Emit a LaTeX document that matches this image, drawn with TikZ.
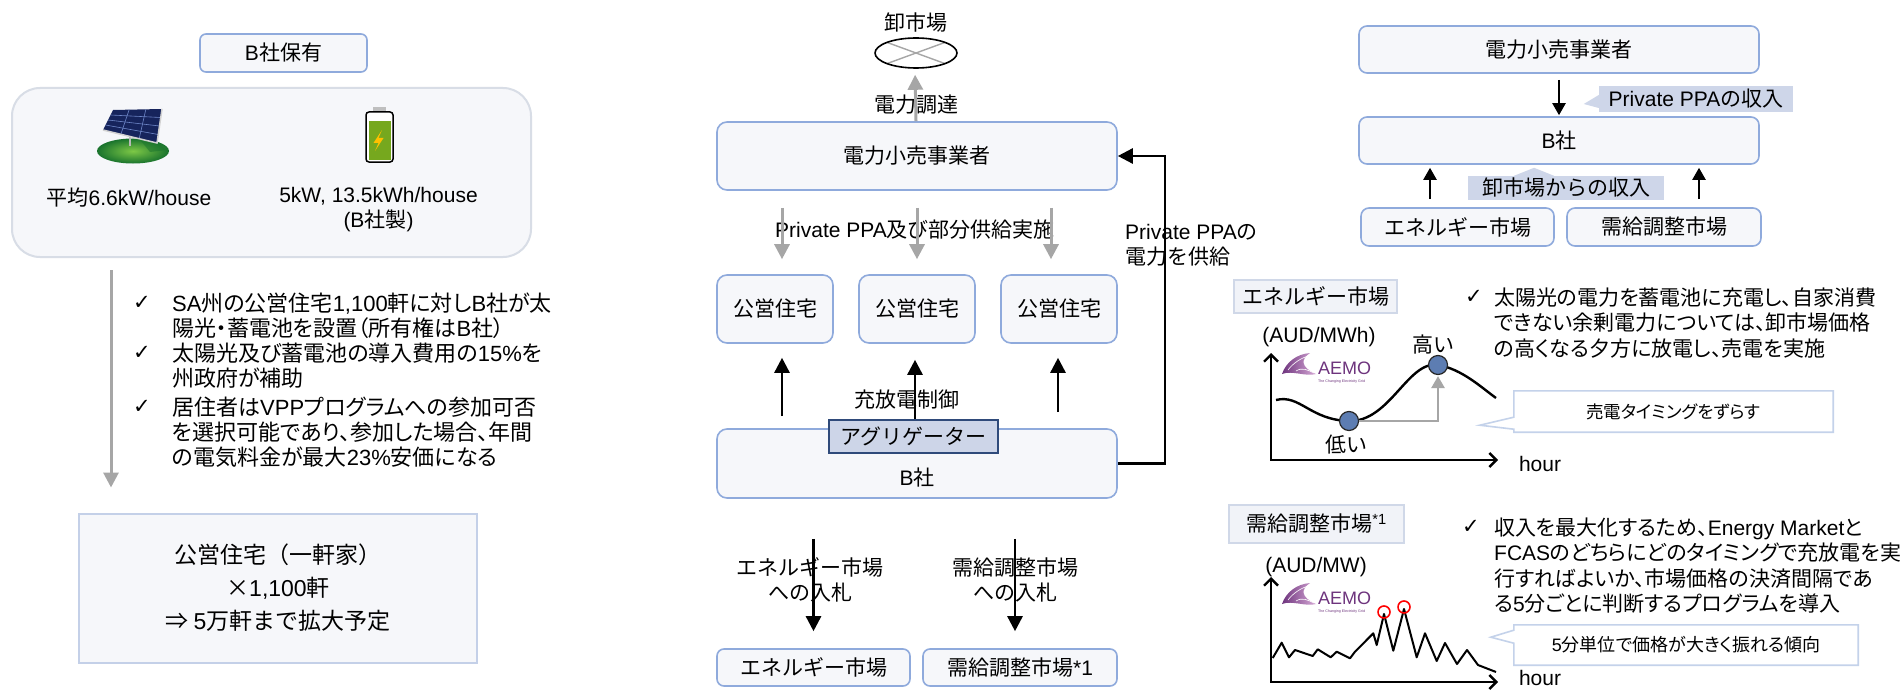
\documentclass[tikz,border=0pt]{standalone}
\usepackage{fontspec}
\setmainfont{Noto Sans CJK JP}
\newfontfamily\jpfont{Noto Sans CJK JP}
\newfontfamily\jpprop[RawFeature=+palt]{Noto Sans CJK JP}
\newfontfamily\latfont{Liberation Sans}
\newfontfamily\symfont{DejaVu Sans}
\usetikzlibrary{arrows.meta,shapes.geometric,calc}

% latin runs in Liberation Sans, the rest in Noto Sans CJK
\XeTeXinterchartokenstate=1
\newXeTeXintercharclass\latclass
\newXeTeXintercharclass\symclass
\newcount\chcode
\chcode=`\!
\loop
  \XeTeXcharclass\chcode=\latclass
\ifnum\chcode<`\~ \advance\chcode by 1 \repeat
\XeTeXcharclass"2713=\symclass
\def\curjp{\jpfont}
\XeTeXinterchartoks 0 \latclass={\latfont}
\XeTeXinterchartoks 4095 \latclass={\latfont}
\XeTeXinterchartoks \latclass 0={\curjp}
\XeTeXinterchartoks 4095 0={\curjp}

\definecolor{boxline}{RGB}{143,170,220}
\definecolor{boxfill}{RGB}{246,247,250}
\definecolor{paleline}{RGB}{216,221,230}
\definecolor{publine}{RGB}{196,208,232}
\definecolor{aggfill}{RGB}{205,213,232}
\definecolor{aggline}{RGB}{47,74,122}
\definecolor{tagfill}{RGB}{206,214,233}
\definecolor{labelfill}{RGB}{241,243,248}
\definecolor{labelline}{RGB}{208,216,232}
\definecolor{noteline}{RGB}{196,210,234}
\definecolor{arrowgray}{RGB}{166,166,166}
\definecolor{dotblue}{RGB}{93,125,178}
\definecolor{aemopurple}{RGB}{110,52,125}
\definecolor{aemopink}{RGB}{215,170,215}
\definecolor{grasslight}{RGB}{125,200,70}
\definecolor{grassdark}{RGB}{25,115,45}
\definecolor{panelnavy}{RGB}{22,36,92}
\definecolor{panelgrid}{RGB}{110,135,200}
\definecolor{battgreen}{RGB}{118,168,30}
\definecolor{boltyellow}{RGB}{255,192,0}

\tikzset{
  txt/.style={inner sep=0pt, font=\fontsize{21}{25}\selectfont},
  box/.style={draw=boxline, fill=boxfill, line width=1.6pt, rounded corners=10pt, inner sep=0pt, font=\fontsize{21}{25}\selectfont},
  aggbox/.style={draw=aggline, fill=aggfill, line width=1.8pt, inner sep=0pt, minimum width=169pt, minimum height=33pt, font=\fontsize{21}{25}\selectfont},
  tag/.style={fill=tagfill, inner sep=0pt, font=\fontsize{21}{25}\selectfont},
  chartlabel/.style={draw=labelline, fill=labelfill, line width=1.3pt, inner sep=0pt, font=\fontsize{21}{25}\selectfont},
  note/.style={inner sep=0pt, font=\fontsize{17.5}{21}\selectfont\let\curjp\jpprop},
  noteline/.style={draw=noteline, line width=1.6pt},
  tick/.style={inner sep=0pt, font=\fontsize{21}{24}\symfont},
  item/.style={anchor=north west, align=left, inner sep=0pt, font=\fontsize{22}{25}\selectfont\let\curjp\jpprop},
  ritem/.style={item, font=\fontsize{21}{25.5}\selectfont\let\curjp\jpprop},
  market/.style={ellipse, draw, line width=1.6pt, minimum width=82pt, minimum height=30pt, inner sep=0pt,
    path picture={\draw[arrowgray, line width=1.4pt] (path picture bounding box.north west) -- (path picture bounding box.south east)
      (path picture bounding box.south west) -- (path picture bounding box.north east);}},
  grayarr/.style={color=arrowgray, line width=3pt, -{Triangle[width=15pt,length=15pt]}},
  blkarr/.style={line width=2.6pt, -{Triangle[width=15pt,length=15pt]}},
  blkarr2/.style={line width=2.2pt, -{Triangle[width=13pt,length=12pt]}},
  grayarr2/.style={color=arrowgray, line width=2.6pt, -{Triangle[width=13pt,length=12pt]}},
  axisarr/.style={line width=2.4pt, {Straight Barb[width=14pt,length=7pt]}-{Straight Barb[width=14pt,length=7pt]}},
  dot/.style={circle, draw=black!85, line width=1.2pt, fill=dotblue, minimum size=19pt, inner sep=0pt},
  peak/.style={circle, draw=red, line width=1.6pt, minimum size=12pt, inner sep=0pt},
  aemologo/.pic={
    \shade[left color=aemopurple, right color=aemopink] (0,21) .. controls (4,9) and (15,1) .. (28,0)
      .. controls (19,6) and (18,14) .. (34,21) .. controls (24,24) and (10,17) .. (0,21) -- cycle;
    \draw[white, line width=0.6pt] (6,17) .. controls (12,9) and (20,5) .. (26,3);
    \draw[white, line width=0.6pt] (14,18) .. controls (20,14) and (26,17) .. (32,20);
    \node[anchor=west, inner sep=0pt, text=aemopurple, font=\fontsize{18}{20}\latfont] (-word) at (36,15) {AEMO};
    \node[anchor=west, inner sep=0pt, text=aemopurple, font=\fontsize{3.6}{4}\latfont] (-tag) at (36,29) {The Changing Electricity Grid};
  }
}

\begin{document}
\begin{tikzpicture}[x=1pt,y=-1pt]
\fill[white] (0,0) rectangle (1903,690);
\useasboundingbox (0,0) rectangle (1903,690);

\node[box, rounded corners=6pt, minimum width=167pt, minimum height=38pt] (own) at (283.5,53) {B社保有};
\node[draw=paleline, fill=boxfill, line width=2pt, rounded corners=28pt, minimum width=519pt, minimum height=169pt] (assets) at (271.5,172.5) {};

\shade[inner color=grasslight, outer color=grassdark] (133,151) ellipse [x radius=36, y radius=12.5];
\fill[grassdark, opacity=0.5] (141,141) -- (158,143) -- (166,150) -- (150,152) -- cycle;
\draw[gray!55, line width=2pt] (130,136) -- (130,146);
\coordinate (pTL) at (113,110);
\coordinate (pTR) at (162,109);
\coordinate (pBR) at (157,143);
\coordinate (pBL) at (103,130);
\fill[panelnavy] (pTL) -- (pTR) -- (pBR) -- (pBL) -- cycle;
\foreach \t in {0.33,0.67}
  \draw[panelgrid, line width=0.6pt] ($(pTL)!\t!(pTR)$) -- ($(pBL)!\t!(pBR)$);
\foreach \t in {0.25,0.5,0.75}
  \draw[panelgrid, line width=0.6pt] ($(pTL)!\t!(pBL)$) -- ($(pTR)!\t!(pBR)$);
\draw[gray!35, line width=1.5pt] (pTR) -- (pBR) -- (pBL);

\fill[gray!50] (373,107.5) rectangle (386,112);
\draw[line width=1.5pt, rounded corners=3pt, fill=white] (366,112) rectangle (393,162);
\fill[battgreen] (368.5,121) rectangle (390.5,159.5);
\fill[boltyellow] (382,130) -- (373.5,143) -- (378.5,143) -- (375,151) -- (383.5,138) -- (378.5,138) -- cycle;

\node[txt] (pvtext) at (129,198) {平均6.6kW/house};
\node[txt, align=center] (battext) at (378.5,210) {5kW, 13.5kWh/house\\(B社製)};

\node[tick] (tick1) at (142,303) {✓};
\node[tick] (tick2) at (142,353) {✓};
\node[tick] (tick3) at (142,407) {✓};
\node[item] (item1) at (172,293) {SA州の公営住宅1,100軒に対しB社が太\\陽光・蓄電池を設置（所有権はB社）};
\node[item] (item2) at (172,343) {太陽光及び蓄電池の導入費用の15\%を\\州政府が補助};
\node[item] (item3) at (172,397) {居住者はVPPプログラムへの参加可否\\を選択可能であり、参加した場合、年間\\の電気料金が最大23\%安価になる};

\node[draw=publine, fill=boxfill, line width=2pt, inner sep=0pt, minimum width=398pt, minimum height=149pt, align=center, font=\fontsize{23}{33}\selectfont] (pubhouse) at (278,588) {公営住宅（一軒家）\\×1,100軒\\⇒ 5万軒まで拡大予定};
\draw[grayarr, shorten <=12pt, shorten >=25pt] ([xshift=100pt]assets.south west) -- ([xshift=33pt]pubhouse.north west);

\node[txt] (wsale) at (916,23) {卸市場};
\node[market] (market) at (916,53) {};
\node[box, minimum width=400pt, minimum height=68pt] (retail) at (917,156) {電力小売事業者};
\node[txt] (procure) at (916,105) {電力調達};
\draw[grayarr, shorten >=6pt] ([xshift=-1pt]retail.north) -- ([xshift=-1pt]market.south);

\node[box, minimum width=116pt, minimum height=68pt] (h1) at (775,309) {公営住宅};
\node[box, minimum width=116pt, minimum height=68pt] (h2) at (917,309) {公営住宅};
\node[box, minimum width=116pt, minimum height=68pt] (h3) at (1059,309) {公営住宅};
\node[txt] (ppa) at (915,230) {Private PPA及び部分供給実施};
\foreach \h/\dx in {h1/7,h2/0,h3/-8}
  \draw[grayarr, shorten <=17pt, shorten >=15pt] ([xshift=\dx pt]\h.north |- retail.south) -- ([xshift=\dx pt]\h.north);

\node[box, minimum width=400pt, minimum height=69pt] (bco) at (917,463.5) {};
\node[txt] (bcotext) at (917,478) {B社};
\node[aggbox] (agg) at (913.5,436.5) {アグリゲーター};
\node[txt] (ctl) at (907,400) {充放電制御};
\draw[blkarr, shorten <=12pt, shorten >=14pt] ([xshift=7pt]h1.south |- bco.north) -- ([xshift=7pt]h1.south);
\draw[blkarr, shorten >=16pt] ([xshift=-2pt]h2.south |- agg.north) -- ([xshift=-2pt]h2.south);
\draw[blkarr, shorten <=16pt, shorten >=14pt] ([xshift=-1pt]h3.south |- bco.north) -- ([xshift=-1pt]h3.south);

\draw[blkarr] (bco.east) -- ++(47,0) |- (retail.east);
\node[txt, anchor=west, align=left] (supply) at (1125,245.5) {Private PPAの\\電力を供給};

\node[box, rounded corners=7pt, minimum width=193pt, minimum height=37pt] (em1) at (813.5,667.5) {エネルギー市場};
\node[box, rounded corners=7pt, minimum width=194pt, minimum height=37pt] (fc1) at (1020,667.5) {需給調整市場*1};
\node[txt, align=center] (bid1) at (810,579.5) {エネルギー市場\\への入札};
\node[txt, align=center] (bid2) at (1015,579.5) {需給調整市場\\への入札};
\draw[blkarr, shorten <=40pt, shorten >=17pt] (em1.north |- bco.south) -- (em1.north);
\draw[blkarr, shorten <=40pt, shorten >=17pt] ([xshift=-5pt]fc1.north |- bco.south) -- ([xshift=-5pt]fc1.north);

\node[box, rounded corners=8pt, minimum width=400pt, minimum height=47pt] (retail2) at (1559,49.5) {電力小売事業者};
\node[box, rounded corners=8pt, minimum width=400pt, minimum height=47pt] (b2) at (1559,140.5) {B社};
\draw[blkarr2, shorten <=6pt, shorten >=1pt] (retail2.south) -- (b2.north);
\node[tag, minimum width=194pt, minimum height=26pt] (ppainc) at (1696,99) {Private PPAの収入};
\fill[tagfill] (ppainc.west) ++(0,-4) -- ++(-15,9) -- ++(15,4) -- cycle;

\node[box, rounded corners=8pt, minimum width=193pt, minimum height=38pt] (em2) at (1457.5,227) {エネルギー市場};
\node[box, rounded corners=8pt, minimum width=194pt, minimum height=38pt] (fc2) at (1664,227) {需給調整市場};
\draw[blkarr2, shorten <=8pt, shorten >=3pt] ([xshift=-27.5pt]em2.north) -- ([xshift=-27.5pt]em2.north |- b2.south);
\draw[blkarr2, shorten <=8pt, shorten >=3pt] ([xshift=35pt]fc2.north) -- ([xshift=35pt]fc2.north |- b2.south);
\node[tag, minimum width=196pt, minimum height=24pt] (whsinc) at (1566,188) {卸市場からの収入};
\fill[tagfill] ([xshift=-52pt]whsinc.north) -- ++(20,-8) -- ++(20,8) -- cycle;

\node[chartlabel, minimum width=163pt, minimum height=33pt] (enlabel) at (1315.5,296.5) {エネルギー市場};
\draw[axisarr] (1271,353) -- (1271,460) -- (1498,460);
\node[txt] (unit1) at (1319,337) {(AUD/MWh)};
\node[txt] (hour1) at (1540,464) {hour};
\pic (logo1) at (1282,353) {aemologo};
\draw[line width=2.4pt] (1276,400) .. controls (1300,394) and (1310,420) .. (1349,421)
  .. controls (1390,422) and (1408,360) .. (1438,365) .. controls (1462,369) and (1482,388) .. (1496,398);
\node[dot] (low) at (1349,421) {};
\node[dot] (high) at (1438,365) {};
\draw[grayarr2, shorten >=1pt] (low.east) -| (high.south);
\node[txt] (hi) at (1433,345) {高い};
\node[txt] (lo) at (1346,445) {低い};
\node[note, minimum width=319pt, minimum height=41pt] (shift) at (1673.5,411.5) {売電タイミングをずらす};
\draw[noteline] (shift.north west) -- (shift.north east) -- (shift.south east) -- (shift.south west)
  -- ++(0,-3) -- ++(-34,-4) -- ++(34,-8) -- cycle;
\node[tick] (tick4) at (1474,297) {✓};
\node[ritem] (item4) at (1494,287.5) {太陽光の電力を蓄電池に充電し、自家消費\\できない余剰電力については、卸市場価格\\の高くなる夕方に放電し、売電を実施};

\node[chartlabel, minimum width=175pt, minimum height=38pt] (fclabel) at (1316.5,524) {需給調整市場\textsuperscript{*1}};
\draw[axisarr] (1271,577) -- (1271,682) -- (1498,682);
\node[txt] (unit2) at (1316,567) {(AUD/MW)};
\node[txt] (hour2) at (1540,678) {hour};
\pic (logo2) at (1282,583) {aemologo};
\draw[line width=2pt, line join=round] (1272.7,658) -- (1281.7,642.7) -- (1289,657.3) -- (1295,650) -- (1312.7,656)
  -- (1317.7,649.3) -- (1330.7,657.3) -- (1336.7,651.7) -- (1350,658.3) -- (1355,651.7) -- (1373.3,633.3)
  -- (1376.7,645) -- (1384,614) -- (1393.3,650.7) -- (1404,609) -- (1416.7,657.3) -- (1425,633.3)
  -- (1436.7,661) -- (1445,643) -- (1457,664) -- (1467,650) -- (1478,665) -- (1496,672);
\node[peak] (pk1) at (1384,612) {};
\node[peak] (pk2) at (1404,607) {};
\node[note, font=\fontsize{18}{21}\selectfont\let\curjp\jpprop, minimum width=344pt, minimum height=40pt] (swing) at (1686,645) {5分単位で価格が大きく振れる傾向};
\draw[noteline] (swing.north west) -- (swing.north east) -- (swing.south east) -- (swing.south west)
  -- ++(0,-22) -- ++(-23,-6) -- ++(23,-7) -- cycle;
\node[tick] (tick5) at (1471,527) {✓};
\node[ritem] (item5) at (1494,517.5) {収入を最大化するため、Energy Marketと\\FCASのどちらにどのタイミングで充放電を実\\行すればよいか、市場価格の決済間隔であ\\る5分ごとに判断するプログラムを導入};
\end{tikzpicture}
\end{document}
